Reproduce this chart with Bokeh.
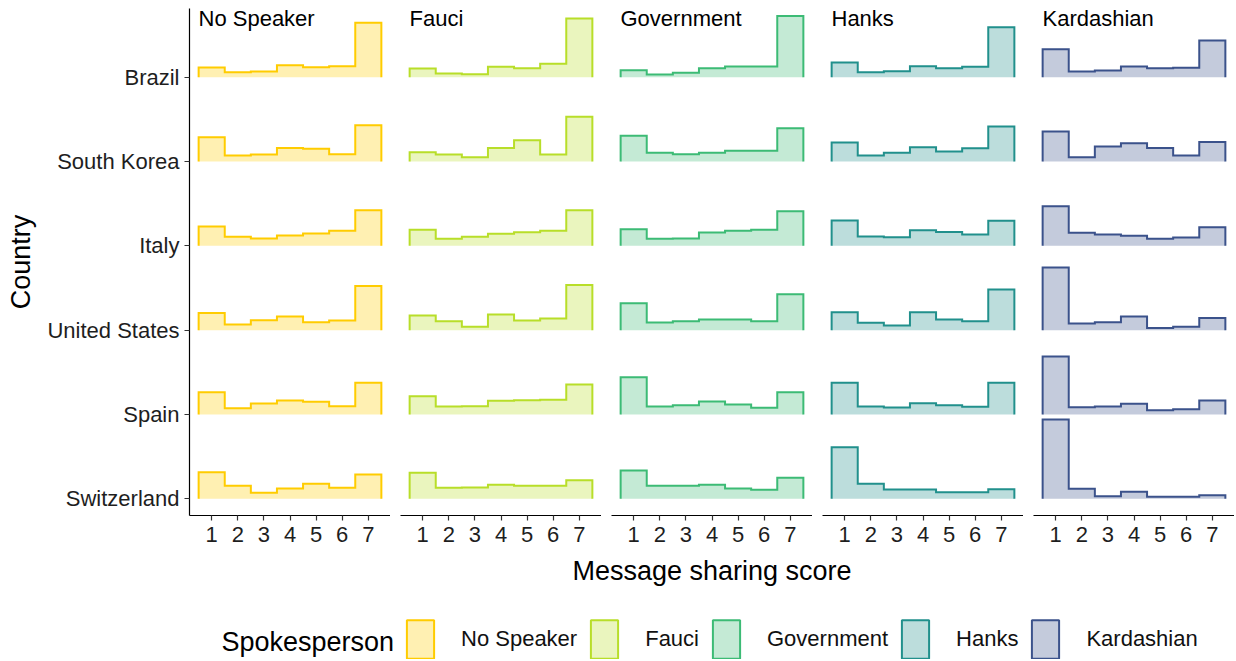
import numpy as np
from bokeh.plotting import figure
from bokeh.models import Range1d, FixedTicker, Label, Legend, LegendItem, ColumnDataSource
from bokeh.layouts import row, column
from bokeh.embed import file_html
from bokeh.resources import INLINE

# ---------------- data ----------------
countries = ["Brazil", "South Korea", "Italy", "United States", "Spain", "Switzerland"]
scores = [1, 2, 3, 4, 5, 6, 7]
speakers = ["No Speaker", "Fauci", "Government", "Hanks", "Kardashian"]
colors = ["#FFCC00", "#B8DE29", "#3CBB75", "#21908C", "#3B528B"]

# percent of respondents at each score (1..7); rows follow `countries`
no_speaker = [
    [9.0, 4.7, 5.3, 11.2, 9.3, 10.2, 50.6],
    [22.6, 5.6, 6.5, 12.7, 11.8, 6.8, 33.8],
    [18.0, 8.4, 6.9, 9.7, 11.5, 14.0, 33.2],
    [16.1, 5.3, 9.3, 12.7, 7.4, 9.0, 41.2],
    [20.7, 5.9, 10.2, 13.0, 11.8, 7.7, 29.5],
    [24.7, 12.1, 5.6, 9.6, 14.0, 10.2, 22.6],
]
fauci = [
    [8.1, 3.4, 2.8, 9.7, 8.4, 12.5, 54.6],
    [8.7, 6.5, 4.0, 12.7, 19.8, 6.5, 41.6],
    [14.9, 6.5, 8.4, 11.2, 12.7, 14.0, 33.2],
    [13.7, 8.4, 3.1, 14.6, 9.0, 10.9, 42.1],
    [17.0, 7.4, 7.7, 12.7, 13.3, 13.7, 27.9],
    [24.2, 10.2, 10.5, 13.0, 12.1, 12.1, 17.3],
]
government = [
    [6.5, 2.5, 4.1, 8.4, 10.0, 10.0, 57.1],
    [23.9, 8.1, 6.8, 8.1, 10.0, 10.0, 31.0],
    [15.5, 6.5, 6.9, 12.5, 14.0, 14.9, 32.3],
    [25.1, 7.2, 8.4, 10.0, 10.0, 8.4, 33.5],
    [34.7, 7.4, 8.7, 12.1, 9.3, 6.2, 20.7],
    [26.3, 12.1, 12.1, 13.0, 9.6, 8.4, 19.5],
]
hanks = [
    [13.7, 4.7, 5.6, 10.2, 8.4, 9.7, 46.5],
    [17.7, 5.6, 8.1, 13.3, 9.3, 12.4, 32.6],
    [23.6, 8.7, 8.1, 14.6, 13.0, 10.6, 23.3],
    [16.7, 6.8, 4.4, 16.7, 10.0, 8.4, 37.9],
    [29.5, 7.4, 6.5, 10.5, 8.7, 7.2, 29.5],
    [48.0, 14.0, 8.7, 8.7, 6.1, 6.1, 8.9],
]
kardashian = [
    [26.0, 5.3, 6.2, 10.0, 8.4, 8.7, 34.1],
    [27.9, 4.0, 14.0, 17.0, 12.7, 5.6, 18.3],
    [36.9, 12.1, 10.6, 9.3, 6.5, 7.8, 17.4],
    [58.3, 6.2, 7.4, 12.7, 2.1, 3.1, 11.4],
    [54.0, 6.8, 7.4, 10.0, 4.0, 4.9, 13.0],
    [73.8, 9.3, 2.4, 6.5, 1.9, 1.9, 3.3],
]
panel_data = [no_speaker, fauci, government, hanks, kardashian]

# ---------------- style / layout ----------------
FONT = "Liberation Sans"
SCALE = 1.274 / 100          # ridge height (in country rows) per percent
Y_LO, Y_HI = 0.802, 6.815
X_LO, X_HI = 0.15, 7.85
FW, FH = 201, 507
LEFT = 189
GAP = 10
TICK_COLOR = "#1e1e1e"

yr = Range1d(Y_LO, Y_HI)
n = len(countries)


def ridge(values, base):
    s = np.array(scores, dtype=float)
    edges = np.append(s - 0.5, s[-1] + 0.5)
    h = np.array(values) * SCALE
    xs = np.concatenate([[edges[0]], np.repeat(edges, 2)[1:-1], [edges[-1]]])
    ys = np.concatenate([[base], np.repeat(base + h, 2), [base]])
    return xs, ys


figs = []
for k, (name, data, col) in enumerate(zip(speakers, panel_data, colors)):
    first = k == 0
    p = figure(frame_width=FW, frame_height=FH,
               x_range=Range1d(X_LO, X_HI), y_range=yr,
               toolbar_location=None, output_backend="svg",
               y_axis_location="left" if first else None,
               min_border_left=LEFT if first else GAP, min_border_right=0,
               min_border_top=8, min_border_bottom=38,
               outline_line_color=None,
               background_fill_color="white", border_fill_color="white")
    p.grid.visible = False

    for i, vals in enumerate(data):
        xs, ys = ridge(vals, n - i)
        src = ColumnDataSource(dict(x=xs, y=ys))
        p.patch("x", "y", source=src, fill_color=col, fill_alpha=0.3, line_color=None)
        p.line("x", "y", source=src, line_color=col, line_width=2, line_join="miter")

    ax = p.xaxis[0]
    ax.ticker = FixedTicker(ticks=scores)
    ax.major_label_text_font = FONT
    ax.major_label_text_font_size = "22px"
    ax.major_label_text_color = TICK_COLOR
    ax.major_label_standoff = 6
    ax.major_tick_out = 5
    ax.major_tick_in = 0
    ax.minor_tick_line_color = None
    ax.axis_line_color = "black"
    ax.axis_line_width = 1.2
    ax.major_tick_line_color = "#333333"
    ax.major_tick_line_width = 1.2

    if first:
        ay = p.yaxis[0]
        ay.ticker = FixedTicker(ticks=list(range(1, n + 1)))
        ay.major_label_overrides = {n - i: c for i, c in enumerate(countries)}
        ay.major_label_text_font = FONT
        ay.major_label_text_font_size = "22px"
        ay.major_label_text_color = TICK_COLOR
        ay.major_label_standoff = 5
        ay.major_tick_out = 5
        ay.major_tick_in = 0
        ay.minor_tick_line_color = None
        ay.axis_line_color = "black"
        ay.axis_line_width = 1.2
        ay.major_tick_line_color = "#333333"
        ay.major_tick_line_width = 1.2
        ay.axis_label = "Country"
        ay.axis_label_text_font = FONT
        ay.axis_label_text_font_size = "27px"
        ay.axis_label_text_font_style = "normal"
        ay.axis_label_text_color = "black"
        ay.axis_label_standoff = 8

    p.add_layout(Label(x=9, y=FH + 3, x_units="screen", y_units="screen", text=name,
                       text_baseline="top", text_align="left",
                       text_font=FONT, text_font_size="22px", text_color="black"))
    figs.append(p)

# ---------------- x title + legend strip ----------------
TOTAL_W = LEFT + FW + 4 * (GAP + FW)
LH = 106
lf = figure(width=TOTAL_W, height=LH, x_range=Range1d(0, 1), y_range=Range1d(0, 1),
            toolbar_location=None, output_backend="svg",
            x_axis_location=None, y_axis_location=None,
            outline_line_color=None, min_border=0,
            background_fill_color="white", border_fill_color="white")
lf.grid.visible = False

# x-axis title, centred under the middle panel
mid_x = LEFT + FW + 2 * GAP + FW + FW / 2
lf.add_layout(Label(x=mid_x, y=LH - 17, x_units="screen", y_units="screen",
                    text="Message sharing score", text_baseline="middle", text_align="center",
                    text_font=FONT, text_font_size="27px", text_color="black"))

items = []
for name, col in zip(speakers, colors):
    r = lf.quad(left=[np.nan], right=[np.nan], top=[np.nan], bottom=[np.nan],
                fill_color=col, fill_alpha=0.3, line_color=col, line_width=2)
    items.append(LegendItem(label=name, renderers=[r]))
leg = Legend(items=items, orientation="horizontal", location=(403, -4),
             glyph_width=34, glyph_height=48, label_standoff=24, spacing=10,
             label_text_font=FONT, label_text_font_size="22px", label_text_color="#111111",
             padding=0, margin=0, border_line_color=None, background_fill_alpha=0)
lf.add_layout(leg)
lf.add_layout(Label(x=221, y=18, x_units="screen", y_units="screen", text="Spokesperson",
                    text_baseline="middle", text_align="left",
                    text_font=FONT, text_font_size="27px", text_color="black"))

layout = column(row(*figs), lf)
open("out.html", "w").write(file_html(layout, INLINE))
